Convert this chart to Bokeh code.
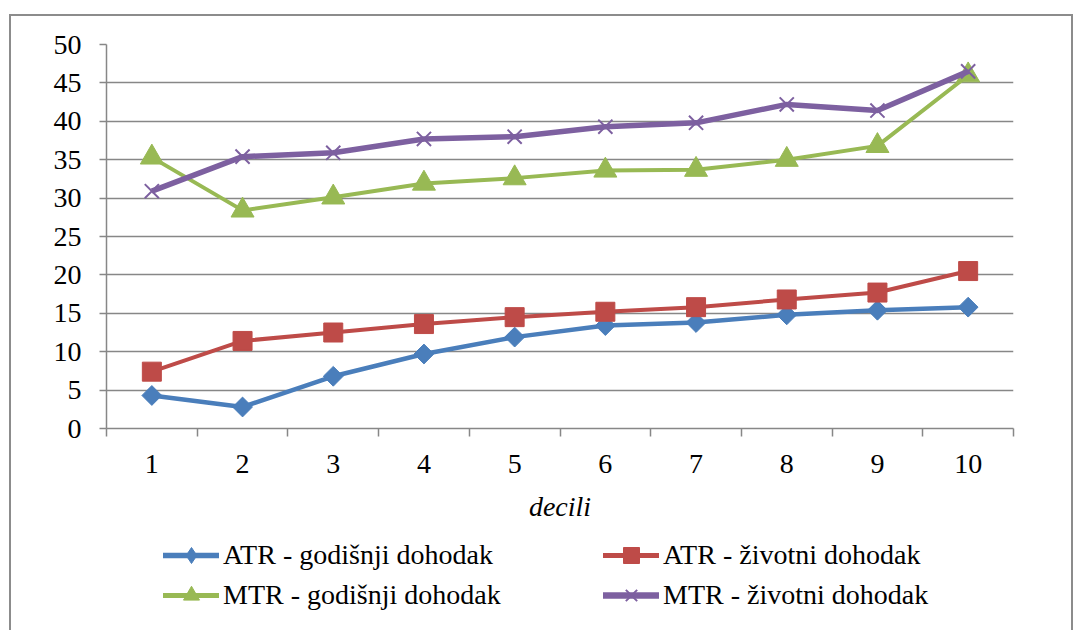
import math
from bokeh.plotting import figure
from bokeh.layouts import column
from bokeh.models import (Range1d, FixedTicker, Legend, LegendItem, ColumnDataSource)
from bokeh.embed import file_html
from bokeh.resources import INLINE

deciles = [1, 2, 3, 4, 5, 6, 7, 8, 9, 10]
atr_godisnji = [4.3, 2.8, 6.8, 9.7, 11.9, 13.4, 13.8, 14.8, 15.4, 15.8]
atr_zivotni = [7.4, 11.4, 12.5, 13.6, 14.5, 15.2, 15.8, 16.8, 17.7, 20.5]
mtr_godisnji = [35.3, 28.4, 30.1, 31.9, 32.6, 33.6, 33.7, 35.0, 36.8, 46.0]
mtr_zivotni = [30.9, 35.4, 35.9, 37.7, 38.0, 39.3, 39.8, 42.2, 41.4, 46.5]
y_ticks = [0, 5, 10, 15, 20, 25, 30, 35, 40, 45, 50]
x_label = "decili"
labels = ["ATR - godišnji dohodak", "ATR - životni dohodak",
          "MTR - godišnji dohodak", "MTR - životni dohodak"]

FONT = "Liberation Serif"
GRAY = "#878787"
BORDER = "2px solid #8c8c8c"

p = figure(width=1064, height=510, output_backend="svg", toolbar_location=None,
           x_range=Range1d(0.5, 10.5), y_range=Range1d(0, 50),
           min_border_left=95, min_border_right=62, min_border_top=28,
           min_border_bottom=98,
           styles={"border-left": BORDER, "border-top": BORDER, "border-right": BORDER})
p.outline_line_color = None
p.background_fill_color = "white"
p.border_fill_color = "white"

p.xgrid.grid_line_color = None
p.ygrid.grid_line_color = GRAY
p.ygrid.grid_line_width = 1.5

p.yaxis.ticker = FixedTicker(ticks=y_ticks)
p.yaxis.axis_line_color = GRAY
p.yaxis.axis_line_width = 1.5
p.yaxis.major_tick_line_color = GRAY
p.yaxis.major_tick_line_width = 1.5
p.yaxis.major_tick_out = 7
p.yaxis.major_tick_in = 0
p.yaxis.minor_tick_line_color = None
p.yaxis.major_label_text_font = FONT
p.yaxis.major_label_text_font_size = "28px"
p.yaxis.major_label_text_color = "black"
p.yaxis.major_label_standoff = 18

p.xaxis.ticker = FixedTicker(ticks=deciles, minor_ticks=[d - 0.5 for d in deciles] + [10.5])
p.xaxis.axis_line_color = GRAY
p.xaxis.axis_line_width = 1.5
p.xaxis.major_tick_line_color = None
p.xaxis.major_tick_out = 0
p.xaxis.major_tick_in = 0
p.xaxis.minor_tick_line_color = GRAY
p.xaxis.minor_tick_line_width = 1.5
p.xaxis.minor_tick_out = 8
p.xaxis.minor_tick_in = 0
p.xaxis.major_label_text_font = FONT
p.xaxis.major_label_text_font_size = "28px"
p.xaxis.major_label_text_color = "black"
p.xaxis.major_label_standoff = 18
p.xaxis.axis_label = x_label
p.xaxis.axis_label_text_font = FONT
p.xaxis.axis_label_text_font_size = "28px"
p.xaxis.axis_label_text_font_style = "italic"
p.xaxis.axis_label_text_color = "black"
p.xaxis.axis_label_standoff = 15

# colour, marker, line width, marker size, marker angle, legend marker
series = [
    (atr_godisnji, "#4A7EBB", "square", 4.5, 14, math.pi / 4, "diamond"),
    (atr_zivotni, "#BE4B48", "square", 4, 19, 0, "square"),
    (mtr_godisnji, "#98B954", "triangle", 4, 23, 0, "triangle"),
    (mtr_zivotni, "#7D60A0", "x", 5.5, 20, 0, "x"),
]

# legend-only figure beneath the chart (its range lies outside the data, so
# only the legend swatches show)
q = figure(width=1064, height=106, output_backend="svg", toolbar_location=None,
           x_range=Range1d(100, 101), y_range=Range1d(100, 101),
           x_axis_type=None, y_axis_type=None,
           min_border_left=95, min_border_right=62, min_border_top=0, min_border_bottom=0,
           styles={"border-left": BORDER, "border-right": BORDER})
q.outline_line_color = None
q.grid.visible = False
q.background_fill_color = "white"
q.border_fill_color = "white"

items = []
for (vals, color, marker, lw, size, ang, lmarker), lab in zip(series, labels):
    src = ColumnDataSource(dict(x=deciles, y=vals))
    lr = p.line("x", "y", source=src, line_color=color, line_width=lw)
    if marker == "x":
        kw = dict(size=size, line_color=color, line_width=2)
    else:
        kw = dict(size=size, angle=ang, fill_color=color, line_color=color, line_width=1)
    sr = p.scatter("x", "y", source=src, marker=marker, **kw)
    ql = q.line("x", "y", source=src, line_color=color, line_width=lw + 1,
                line_cap="round")
    lkw = dict(kw)
    lkw.pop("angle", None)
    qs = q.scatter("x", "y", source=src, marker=lmarker, **lkw)
    items.append(LegendItem(label=lab, renderers=[ql, qs]))

def make_legend(its, x, y):
    return Legend(items=its, location=(x, y), orientation="vertical",
                  label_text_font=FONT, label_text_font_size="28px",
                  label_text_color="black", label_height=40, glyph_height=40,
                  glyph_width=56, label_standoff=4, spacing=0, padding=0,
                  margin=0, border_line_color=None, background_fill_alpha=0)

q.add_layout(make_legend([items[0], items[2]], 57, 15), "center")
q.add_layout(make_legend([items[1], items[3]], 497, 15), "center")

layout = column(p, q, margin=(14, 0, 0, 9), spacing=0)
open("out.html", "w").write(file_html(layout, INLINE))
